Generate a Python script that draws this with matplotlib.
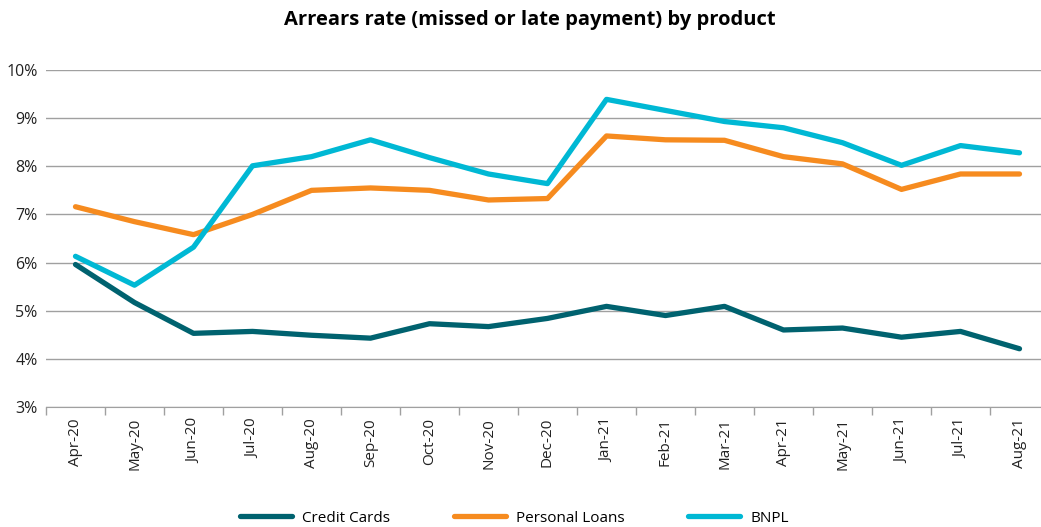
import numpy as np
import matplotlib.pyplot as plt
from matplotlib.ticker import FixedLocator, PercentFormatter

plt.rcParams['font.family'] = ['Open Sans', 'DejaVu Sans']

# Données
months = ["Apr-20", "May-20", "Jun-20", "Jul-20", "Aug-20", "Sep-20", "Oct-20", "Nov-20",
          "Dec-20", "Jan-21", "Feb-21", "Mar-21", "Apr-21", "May-21", "Jun-21", "Jul-21", "Aug-21"]
credit_cards = [5.96, 5.17, 4.53, 4.57, 4.49, 4.43, 4.73, 4.67, 4.84, 5.09, 4.90, 5.09, 4.60, 4.64, 4.45, 4.57, 4.21]
personal_loans = [7.16, 6.85, 6.58, 7.00, 7.50, 7.55, 7.50, 7.30, 7.33, 8.63, 8.55, 8.54, 8.20, 8.05, 7.52, 7.84, 7.84]
bnpl = [6.13, 5.53, 6.32, 8.01, 8.20, 8.55, 8.18, 7.84, 7.64, 9.39, 9.16, 8.93, 8.80, 8.49, 8.02, 8.43, 8.28]

series = [("Credit Cards", credit_cards, "#00626F"),
          ("Personal Loans", personal_loans, "#F68B1F"),
          ("BNPL", bnpl, "#00B8D4")]

fig = plt.figure(figsize=(10.41, 5.27), dpi=100)
ax = fig.add_axes([46 / 1041, 1 - 407 / 527, 1003 / 1041, 337 / 527])

x = np.arange(len(months))
for name, vals, col in series:
    ax.plot(x, vals, color=col, linewidth=3.8, solid_capstyle="round",
            solid_joinstyle="round", label=name)

ax.set_xlim(-0.5, len(months) - 0.5)
ax.set_ylim(3, 10)
ax.set_yticks(range(3, 11))
ax.yaxis.set_major_formatter(PercentFormatter(decimals=0))
ax.set_xticks(x)
ax.set_xticklabels(months, rotation=90, fontsize=11, color="#222222")
ax.xaxis.set_minor_locator(FixedLocator(np.arange(-0.5, len(months), 1)))
ax.tick_params(axis="x", which="major", length=0, pad=8)
ax.tick_params(axis="x", which="minor", length=6, color="#a0a0a0", width=1)
ax.tick_params(axis="y", length=0, labelsize=11.5, labelcolor="#222222", pad=6)
for lbl in ax.get_yticklabels():
    lbl.set_verticalalignment("center_baseline")

ax.grid(axis="y", color="#a0a0a0", linewidth=1)
ax.set_axisbelow(True)
for s in ["top", "right", "left"]:
    ax.spines[s].set_visible(False)
ax.spines["bottom"].set_color("#a0a0a0")

fig.suptitle("Arrears rate (missed or late payment) by product", fontsize=14.5,
             fontweight="bold", x=0.509, y=0.962, va="center")
fig.legend(loc="center", ncol=3, frameon=False, fontsize=11,
           bbox_to_anchor=(0.494, 1 - 518 / 527), handlelength=3.4,
           handletextpad=0.65, columnspacing=4.2)

fig.savefig("out.png", dpi=100)
